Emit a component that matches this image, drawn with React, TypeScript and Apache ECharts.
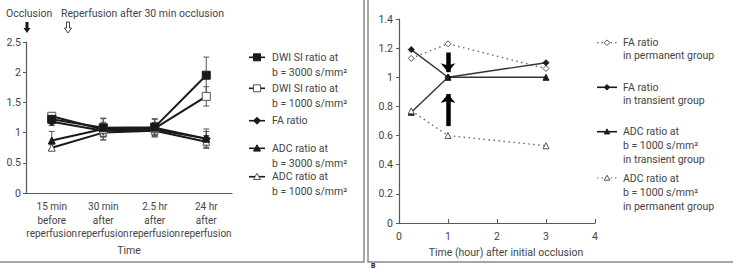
import React, { useEffect, useRef } from "react";
import * as echarts from "echarts";

// ---- Panel A: ratios over time after reperfusion ----
const timePoints = [
  "15 min\nbefore\nreperfusion",
  "30 min\nafter\nreperfusion",
  "2.5 hr\nafter\nreperfusion",
  "24 hr\nafter\nreperfusion",
];
const dwi3000 = [1.22, 1.08, 1.09, 1.95];
const dwi3000Err = [0.1, 0.15, 0.13, 0.3];
const dwi1000 = [1.27, 1.05, 1.07, 1.6];
const dwi1000Err = [0.05, 0.12, 0.1, 0.16];
const faRatio = [1.18, 1.03, 1.05, 0.9];
const faErr = [0.06, 0.1, 0.1, 0.12];
const adc3000 = [0.87, 1.06, 1.08, 0.9];
const adc3000Err = [0.15, 0.18, 0.15, 0.16];
const adc1000 = [0.75, 1.0, 1.03, 0.85];
const adc1000Err = [0.05, 0.12, 0.1, 0.1];

// ---- Panel B: permanent vs transient occlusion ----
const hours = [0.25, 1, 3];
const faPermanent = [1.13, 1.23, 1.06];
const faTransient = [1.19, 1.0, 1.1];
const adcTransient = [0.76, 1.0, 1.0];
const adcPermanent = [0.77, 0.6, 0.53];
const arrowDown = [[1, 1.17], [1, 1.035]];
const arrowUp = [[1, 0.665], [1, 0.885]];

const FONT = "Roboto, 'Noto Sans', sans-serif";
const TEXT = "#444";
const AXIS = "#5a5a5a";
const INK = "#1a1a1a";
const FS = 10.5;

function errorBars(values: number[], errs: number[]) {
  return {
    type: "custom",
    xAxisIndex: 0,
    yAxisIndex: 0,
    silent: true,
    z: 1,
    encode: { x: 0, y: [1, 2] },
    data: values.map((v, i) => [i, v - errs[i], v + errs[i]]),
    renderItem: (_p: any, api: any) => {
      const x = api.value(0);
      const lo = api.coord([x, api.value(1)]);
      const hi = api.coord([x, api.value(2)]);
      const w = 3;
      const st = { stroke: "#555", lineWidth: 1 };
      return {
        type: "group",
        children: [
          { type: "line", shape: { x1: lo[0], y1: lo[1], x2: hi[0], y2: hi[1] }, style: st },
          { type: "line", shape: { x1: lo[0] - w, y1: lo[1], x2: lo[0] + w, y2: lo[1] }, style: st },
          { type: "line", shape: { x1: hi[0] - w, y1: hi[1], x2: hi[0] + w, y2: hi[1] }, style: st },
        ],
      };
    },
  };
}

function symbolShape(kind: string, cx: number, cy: number, r: number, filled: boolean) {
  const style = {
    fill: filled ? INK : "#fff",
    stroke: filled ? INK : "#555",
    lineWidth: 1,
  };
  if (kind === "rect") {
    return { type: "rect", shape: { x: cx - r, y: cy - r, width: 2 * r, height: 2 * r }, style };
  }
  if (kind === "diamond") {
    return {
      type: "polygon",
      shape: { points: [[cx, cy - r], [cx + r, cy], [cx, cy + r], [cx - r, cy]] },
      style,
    };
  }
  return {
    type: "polygon",
    shape: { points: [[cx, cy - r], [cx + r, cy + r * 0.8], [cx - r, cy + r * 0.8]] },
    style,
  };
}

function legendEntry(
  x0: number,
  x1: number,
  tx: number,
  y: number,
  kind: string,
  filled: boolean,
  dotted: boolean,
  text: string,
  lh: number,
  r: number
) {
  return [
    {
      type: "line",
      shape: { x1: x0, y1: y, x2: x1, y2: y },
      style: { stroke: dotted ? "#666" : INK, lineWidth: dotted ? 1.2 : 1.6, lineDash: dotted ? [1.5, 3] : null },
    },
    symbolShape(kind, (x0 + x1) / 2, y, r, filled),
    {
      type: "text",
      x: tx,
      y: y - lh / 2,
      style: { text, fill: TEXT, font: `${FS}px ${FONT}`, lineHeight: lh, verticalAlign: "top", align: "left" },
    },
  ];
}

function downArrow(cx: number, y0: number, y1: number, filled: boolean) {
  const sw = 1.5;
  const hw = 3.5;
  const hy = y1 - 5;
  return {
    type: "polygon",
    shape: {
      points: [
        [cx - sw, y0],
        [cx + sw, y0],
        [cx + sw, hy],
        [cx + hw, hy],
        [cx, y1],
        [cx - hw, hy],
        [cx - sw, hy],
      ],
    },
    style: filled ? { fill: INK } : { fill: "#fff", stroke: "#444", lineWidth: 1 },
  };
}

export default function App() {
  const ref = useRef<HTMLDivElement>(null);

  useEffect(() => {
    if (!ref.current) return;
    const chart = echarts.init(ref.current, null, { renderer: "svg" });

    const lineSeries = (
      name: string,
      data: any[],
      symbol: string,
      filled: boolean,
      size: number,
      grid: number,
      dotted = false
    ) => ({
      name,
      type: "line",
      xAxisIndex: grid,
      yAxisIndex: grid,
      data,
      symbol,
      symbolSize: size,
      z: 3,
      lineStyle: {
        color: dotted ? "#666" : grid === 0 ? INK : "#333",
        width: dotted ? 1.4 : grid === 0 ? 2 : 1.4,
        type: dotted ? [1.5, 3.5] : "solid",
      },
      itemStyle: {
        color: filled ? INK : "#fff",
        borderColor: filled ? INK : "#555",
        borderWidth: 1,
      },
    });

    const pairs = (xs: number[], ys: number[]) => xs.map((x, i) => [x, ys[i]]);

    const arrowStyle = {
      silent: true,
      symbol: ["none", "arrow"],
      symbolSize: [11, 9],
      label: { show: false },
      lineStyle: { color: "#000", width: 4.5, type: "solid" },
      data: [
        [{ coord: arrowDown[0] }, { coord: arrowDown[1] }],
        [{ coord: arrowUp[0] }, { coord: arrowUp[1] }],
      ],
    };

    const axisLabel = { color: TEXT, fontSize: FS, fontFamily: FONT };

    chart.setOption({
      animation: false,
      textStyle: { fontFamily: FONT },
      grid: [
        { left: 26, top: 42, width: 206, height: 151 },
        { left: 399, top: 19, width: 196, height: 204 },
      ],
      xAxis: [
        {
          type: "category",
          gridIndex: 0,
          data: timePoints,
          boundaryGap: true,
          axisLine: { lineStyle: { color: AXIS, width: 1.2 } },
          axisTick: { inside: true, length: 4, lineStyle: { color: AXIS } },
          axisLabel: { ...axisLabel, fontSize: 10, margin: 7, lineHeight: 13.5, interval: 0 },
          name: "Time",
          nameLocation: "middle",
          nameGap: 52,
          nameTextStyle: { ...axisLabel },
        },
        {
          type: "value",
          gridIndex: 1,
          min: 0,
          max: 4,
          interval: 1,
          splitLine: { show: false },
          axisLine: { lineStyle: { color: AXIS, width: 1.2 } },
          axisTick: { inside: true, length: 4, lineStyle: { color: AXIS } },
          axisLabel: { ...axisLabel, margin: 8 },
          name: "Time (hour) after initial occlusion",
          nameLocation: "middle",
          nameGap: 21,
          nameTextStyle: { ...axisLabel, padding: [0, 0, 0, 18] },
        },
      ],
      yAxis: [
        {
          type: "value",
          gridIndex: 0,
          min: 0,
          max: 2.5,
          interval: 0.5,
          splitLine: { show: false },
          axisLine: { show: true, lineStyle: { color: AXIS, width: 1.2 } },
          axisTick: { show: true, length: 3, lineStyle: { color: AXIS } },
          axisLabel: { ...axisLabel, margin: 5 },
        },
        {
          type: "value",
          gridIndex: 1,
          min: 0,
          max: 1.4,
          interval: 0.2,
          splitLine: { show: false },
          axisLine: { show: true, lineStyle: { color: AXIS, width: 1.2 } },
          axisTick: { show: true, length: 3, lineStyle: { color: AXIS } },
          axisLabel: { ...axisLabel, margin: 6 },
        },
      ],
      series: [
        errorBars(dwi3000, dwi3000Err),
        errorBars(dwi1000, dwi1000Err),
        errorBars(faRatio, faErr),
        errorBars(adc3000, adc3000Err),
        errorBars(adc1000, adc1000Err),
        lineSeries("ADC ratio at b = 1000 s/mm²", adc1000, "triangle", false, 7, 0),
        lineSeries("ADC ratio at b = 3000 s/mm²", adc3000, "triangle", true, 7, 0),
        lineSeries("FA ratio", faRatio, "diamond", true, 8, 0),
        lineSeries("DWI SI ratio at b = 1000 s/mm²", dwi1000, "rect", false, 8, 0),
        lineSeries("DWI SI ratio at b = 3000 s/mm²", dwi3000, "rect", true, 8, 0),
        lineSeries("FA ratio in permanent group", pairs(hours, faPermanent), "diamond", false, 6, 1, true),
        {
          ...lineSeries("FA ratio in transient group", pairs(hours, faTransient), "diamond", true, 6, 1),
          markLine: arrowStyle,
        },
        lineSeries("ADC ratio at b = 1000 s/mm² in transient group", pairs(hours, adcTransient), "triangle", true, 6, 1),
        lineSeries("ADC ratio at b = 1000 s/mm² in permanent group", pairs(hours, adcPermanent), "triangle", false, 6, 1, true),
      ],
      graphic: [
        // panel frames
        { type: "polyline", shape: { points: [[364, 0], [364, 262], [0, 262]] }, style: { stroke: "#8a8a8a", lineWidth: 1.5, fill: null } },
        { type: "polyline", shape: { points: [[368, 0], [368, 262], [733, 262]] }, style: { stroke: "#8a8a8a", lineWidth: 1.5, fill: null } },
        { type: "text", x: 371, y: 262.5, style: { text: "B", fill: "#222", font: `bold 7px ${FONT}`, lineHeight: 6.5, verticalAlign: "top" } },
        // event annotations
        { type: "text", x: 6, y: 13, style: { text: "Occlusion", fill: TEXT, font: `${FS}px ${FONT}`, verticalAlign: "middle" } },
        { type: "text", x: 61, y: 13, style: { text: "Reperfusion after 30 min occlusion", fill: TEXT, font: `${FS}px ${FONT}`, verticalAlign: "middle" } },
        downArrow(27, 22, 33, true),
        downArrow(68, 22, 33, false),
        // legend, panel A
        ...legendEntry(249, 265, 272, 57.3, "rect", true, false, "DWI SI ratio at\nb = 3000 s/mm²", 14.8, 3.5),
        ...legendEntry(249, 265, 272, 88.3, "rect", false, false, "DWI SI ratio at\nb = 1000 s/mm²", 14.8, 3.5),
        ...legendEntry(249, 265, 272, 120.7, "diamond", true, false, "FA ratio", 14.8, 3.5),
        ...legendEntry(249, 265, 272, 148.3, "triangle", true, false, "ADC ratio at\nb = 3000 s/mm²", 14.8, 3.5),
        ...legendEntry(249, 265, 272, 176.7, "triangle", false, false, "ADC ratio at\nb = 1000 s/mm²", 14.8, 3.5),
        // legend, panel B
        ...legendEntry(597, 617, 623, 42.7, "diamond", false, true, "FA ratio\nin permanent group", 13, 2.8),
        ...legendEntry(597, 617, 623, 87.3, "diamond", true, false, "FA ratio\nin transient group", 13, 2.8),
        ...legendEntry(597, 617, 623, 131.7, "triangle", true, false, "ADC ratio at\nb = 1000 s/mm²\nin transient group", 14, 2.8),
        ...legendEntry(597, 617, 623, 178, "triangle", false, true, "ADC ratio at\nb = 1000 s/mm²\nin permanent group", 14, 2.8),
      ],
    });

    return () => chart.dispose();
  }, []);

  return <div ref={ref} style={{ width: 733, height: 269, position: "absolute", left: 0, top: 0 }} />;
}
